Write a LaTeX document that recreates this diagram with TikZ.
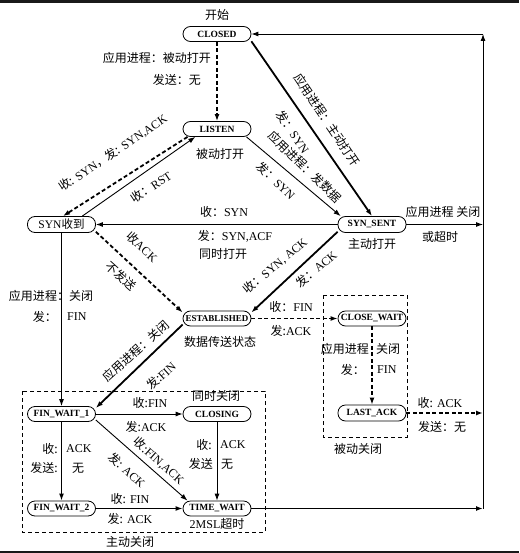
\documentclass[tikz,border=0pt]{standalone}
\usepackage{fontspec}
\setmainfont{Liberation Serif}
\newfontfamily\cjk{Noto Sans CJK SC}
\usetikzlibrary{arrows.meta,calc}
\newcommand{\zh}[1]{{\cjk #1}}
\begin{document}
\begin{tikzpicture}[x=1pt,y=-1pt,>={Latex[length=7pt,width=5pt]},
  st/.style={draw,line width=0.8pt,rounded corners=7.5pt,minimum width=68pt,minimum height=15pt,inner sep=1pt,font=\fontsize{9.5}{10}\selectfont\bfseries},
  lab/.style={inner sep=0pt,font=\fontsize{12}{14}\selectfont},
  ln/.style={line width=0.9pt},
  tk/.style={line width=1.8pt},
  dk/.style={line width=1.8pt,dash pattern=on 4pt off 2.5pt},
  grp/.style={draw,line width=0.8pt,dash pattern=on 4pt off 3pt}]
\useasboundingbox (0,0) rectangle (519,553);
\fill[white] (0,0) rectangle (519,553);
\fill[black!90] (0,0) rectangle (519,2.7);
\fill[black!90] (0,550.5) rectangle (519,553);
% groups
\draw[grp] (22,391) rectangle (265,532);
\draw[grp] (323,295) rectangle (407,437);
% states
\node[st] (closed) at (217,34) {CLOSED};
\node[st] (listen) at (217,129) {LISTEN};
\node[st,minimum height=16pt,font=\fontsize{11.5}{12}\selectfont] (synrcvd) at (61.5,224.5) {SYN\zh{收到}};
\node[st,minimum height=16pt] (synsent) at (372,224.5) {SYN\_SENT};
\node[st,font=\fontsize{9}{10}\selectfont\bfseries] (est) at (217,318.5) {ESTABLISHED};
\node[st] (closewait) at (372,318.5) {CLOSE\_WAIT};
\node[st,minimum height=16pt] (lastack) at (372,413) {LAST\_ACK};
\node[st] (fw1) at (61.5,414) {FIN\_WAIT\_1};
\node[st] (closing) at (217,414) {CLOSING};
\node[st] (fw2) at (61.5,508.5) {FIN\_WAIT\_2};
\node[st] (tw) at (217,508.5) {TIME\_WAIT};
\coordinate (rt) at (483,34);
\coordinate (rb) at (483,508.5);
% connectors
\draw[dk,->] (closed.south) -- (listen.north);
\draw[tk,->] (closed.-12) -- (synsent.north);
\draw[ln,->] (listen.-15) -- (synsent.165);
\draw[dk,->] (listen.195) -- (synrcvd.80);
\draw[ln,->] (synrcvd.22) -- (listen.200);
\draw[ln,->] (synsent.west) -- (synrcvd.east);
\draw[ln,->] (synsent.east) -- (synsent.east -| rt);
\draw[dk,->] (synrcvd.-12) -- (est.170);
\draw[tk,->] (synsent.192) -- (est.10);
\draw[dk,->] (est.east) -- (closewait.west);
\draw[dk,->] (closewait.south) -- (lastack.north);
\draw[dk,->] (lastack.east) -- (lastack.east -| rt);
\draw[tk,->] (est.190) -- (fw1.10);
\draw[ln,->] (synrcvd.south) -- (fw1.north);
\draw[ln,->] (fw1.east) -- (closing.west);
\draw[ln,->] (fw1.-10) -- (tw.165);
\draw[tk,->] (fw1.south) -- (fw2.north);
\draw[ln,->] (closing.south) -- (tw.north);
\draw[tk,->] (fw2.east) -- (tw.west);
\draw[tk,->] (tw.east) -- (rb);
\draw[ln,->] (rb) -- (rt);
\draw[ln,->] (rt) -- (closed.east);
% labels
\node[lab] (t1) at (217,15) {\zh{开始}};
\node[lab,anchor=east] (t2) at (211,58) {\zh{应用进程：被动打开}};
\node[lab,anchor=east] (t3) at (201,80) {\zh{发送：无}};
\node[lab,rotate=-56] (t4) at (327,120) {\zh{应用进程：主动打开}};
\node[lab,rotate=-56] (t5) at (293,132) {\zh{发：}SYN};
\node[lab,rotate=-44] (t6) at (305,167) {\zh{应用进程：发数据}};
\node[lab,rotate=-44] (t7) at (276,181) {\zh{发：}SYN};
\node[lab] (t8) at (220,154) {\zh{被动打开}};
\node[lab,rotate=34] (t9) at (113,153) {\zh{收:} SYN\zh{，发:} SYN,ACK};
\node[lab,rotate=34] (t10) at (151,187) {\zh{收：}RST};
\node[lab] (t11) at (224,212) {\zh{收：}SYN};
\node[lab] (t12) at (235,236) {\zh{发：}SYN,ACF};
\node[lab] (t13) at (223,254) {\zh{同时打开}};
\node[lab] (t14) at (443,212) {\zh{应用进程 关闭}};
\node[lab] (t15) at (440,237) {\zh{或超时}};
\node[lab] (t16) at (372,244) {\zh{主动打开}};
\node[lab,rotate=-42] (t17) at (142,247) {\zh{收}ACK};
\node[lab,rotate=-42] (t18) at (121,276) {\zh{不发送}};
\node[lab,rotate=40] (t19) at (275,266) {\zh{收：}SYN, ACK};
\node[lab,rotate=40] (t20) at (316,269) {\zh{发：}ACK};
\node[lab] (t21) at (51,296) {\zh{应用进程：关闭}};
\node[lab,anchor=east] (t22) at (57,317) {\zh{发：}};
\node[lab,anchor=west] (t23) at (67,317) {FIN};
\node[lab] (t24) at (291,307) {\zh{收：}FIN};
\node[lab] (t25) at (291,331) {\zh{发:}ACK};
\node[lab] (t26) at (220,342) {\zh{数据传送状态}};
\node[lab,anchor=east] (t27) at (369,349) {\zh{应用进程}};
\node[lab,anchor=west] (t28) at (376,349) {\zh{关闭}};
\node[lab,anchor=east] (t29) at (365,370) {\zh{发：}};
\node[lab,anchor=west] (t30) at (377,370) {FIN};
\node[lab,rotate=42] (t31) at (136,351) {\zh{应用进程：关闭}};
\node[lab,rotate=42] (t32) at (161,376) {\zh{发:}FIN};
\node[lab] (t33) at (216,396) {\zh{同时关闭}};
\node[lab] (t34) at (150,403) {\zh{收:}FIN};
\node[lab] (t35) at (146,427) {\zh{发:}ACK};
\node[lab,anchor=east] (t36) at (58,449) {\zh{收:}};
\node[lab,anchor=west] (t37) at (66,449) {ACK};
\node[lab,anchor=east] (t38) at (58,468) {\zh{发送:}};
\node[lab,anchor=west] (t39) at (72,468) {\zh{无}};
\node[lab,rotate=-42] (t40) at (159,461) {\zh{收:}FIN,ACK};
\node[lab,rotate=-42] (t41) at (127,470) {\zh{发:} ACK};
\node[lab,anchor=east] (t42) at (212,445) {\zh{收:}};
\node[lab,anchor=west] (t43) at (220,445) {ACK};
\node[lab,anchor=east] (t44) at (213,464) {\zh{发送}};
\node[lab,anchor=west] (t45) at (221,464) {\zh{无}};
\node[lab] (t46) at (130,499) {\zh{收:} FIN};
\node[lab] (t47) at (130,519) {\zh{发:} ACK};
\node[lab] (t48) at (217,524) {2MSL\zh{超时}};
\node[lab] (t49) at (130,542) {\zh{主动关闭}};
\node[lab] (t50) at (440,403) {\zh{收:} ACK};
\node[lab] (t51) at (442,427) {\zh{发送：无}};
\node[lab] (t52) at (358,449) {\zh{被动关闭}};
\end{tikzpicture}
\end{document}
